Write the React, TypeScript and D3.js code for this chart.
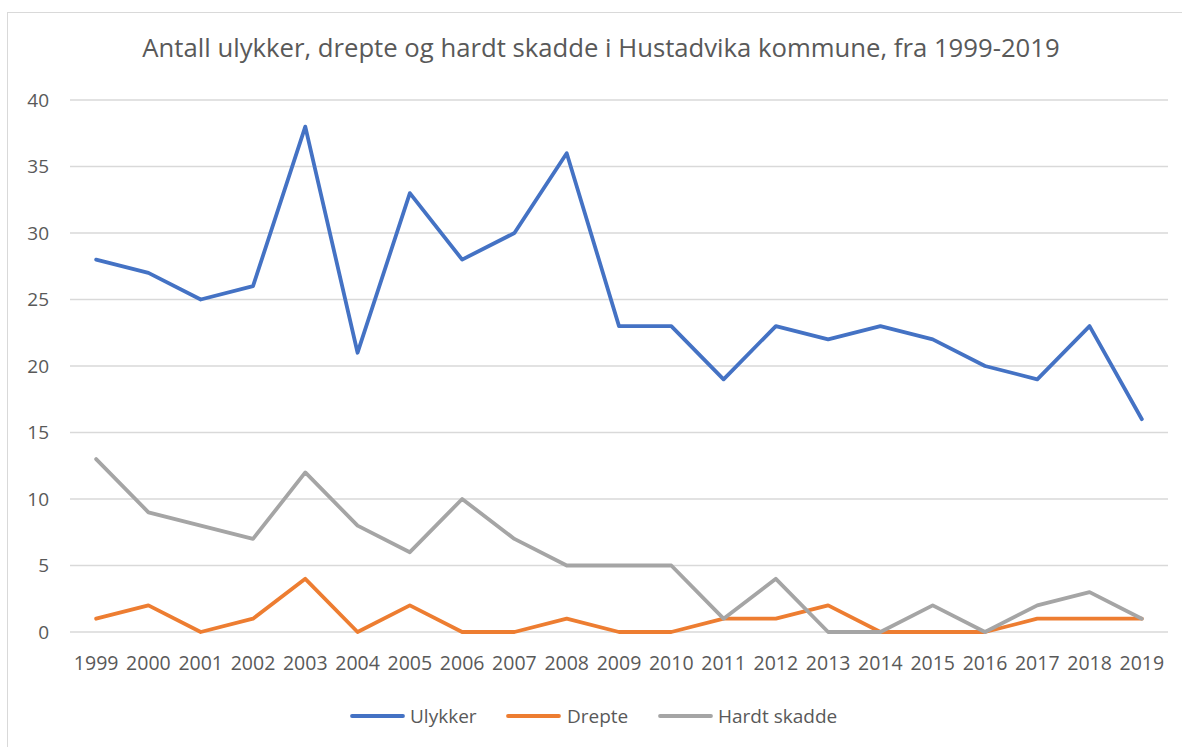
import { useMemo } from 'react'
import * as d3 from 'd3'

const WIDTH = 1182
const HEIGHT = 747
const MARGIN = { top: 100, right: 14, bottom: 115, left: 70 }

const TITLE = 'Antall ulykker, drepte og hardt skadde i Hustadvika kommune, fra 1999-2019'

const YEARS = [
  '1999', '2000', '2001', '2002', '2003', '2004', '2005', '2006', '2007', '2008', '2009',
  '2010', '2011', '2012', '2013', '2014', '2015', '2016', '2017', '2018', '2019'
]

const ULYKKER = [28, 27, 25, 26, 38, 21, 33, 28, 30, 36, 23, 23, 19, 23, 22, 23, 22, 20, 19, 23, 16]
const DREPTE = [1, 2, 0, 1, 4, 0, 2, 0, 0, 1, 0, 0, 1, 1, 2, 0, 0, 0, 1, 1, 1]
const HARDT_SKADDE = [13, 9, 8, 7, 12, 8, 6, 10, 7, 5, 5, 5, 1, 4, 0, 0, 2, 0, 2, 3, 1]

const Y_TICKS = [0, 5, 10, 15, 20, 25, 30, 35, 40]

const SERIES = [
  { name: 'Ulykker', values: ULYKKER, color: '#4472C4' },
  { name: 'Drepte', values: DREPTE, color: '#ED7D31' },
  { name: 'Hardt skadde', values: HARDT_SKADDE, color: '#A5A5A5' }
]

const FONT = '"Open Sans", "Noto Sans", sans-serif'
const TEXT_COLOR = '#595959'

export default function App() {
  const innerWidth = WIDTH - MARGIN.left - MARGIN.right
  const innerHeight = HEIGHT - MARGIN.top - MARGIN.bottom

  const xScale = useMemo(
    () => d3.scaleBand<string>().domain(YEARS).range([0, innerWidth]),
    [innerWidth]
  )
  const yScale = useMemo(
    () => d3.scaleLinear().domain([0, 40]).range([innerHeight, 0]),
    [innerHeight]
  )

  const line = d3.line<number>()
    .x((_, i) => (xScale(YEARS[i]) ?? 0) + xScale.bandwidth() / 2)
    .y(d => yScale(d))

  // legend layout (line swatch + label)
  const legendItems = [
    { x: 352, textX: 410 },
    { x: 508, textX: 567 },
    { x: 660, textX: 718 }
  ]

  return (
    <svg
      width={WIDTH}
      height={HEIGHT}
      style={{ position: 'absolute', left: 0, top: 0, background: '#fff' }}
      fontFamily={FONT}
    >
      {/* chart frame, cropped on right/bottom */}
      <rect x={7.5} y={12.5} width={1200} height={800} fill="#fff" stroke="#d9d9d9" />

      <text x={601} y={57} textAnchor="middle" fontSize={25.7} fill={TEXT_COLOR}>
        {TITLE}
      </text>

      <g transform={`translate(${MARGIN.left}, ${MARGIN.top})`}>
        {/* gridlines + y labels */}
        {Y_TICKS.map(t => (
          <g key={t} transform={`translate(0, ${yScale(t)})`}>
            <line x1={0} x2={innerWidth} stroke="#d9d9d9" strokeWidth={1.3} />
            <text x={-21} dy="0.35em" textAnchor="end" fontSize={19} fill={TEXT_COLOR}>
              {t}
            </text>
          </g>
        ))}

        {/* x labels */}
        {YEARS.map(y => (
          <text
            key={y}
            x={(xScale(y) ?? 0) + xScale.bandwidth() / 2}
            y={innerHeight + 38}
            textAnchor="middle"
            fontSize={19.5}
            fill={TEXT_COLOR}
          >
            {y}
          </text>
        ))}

        {SERIES.map(s => (
          <path
            key={s.name}
            d={line(s.values) ?? ''}
            fill="none"
            stroke={s.color}
            strokeWidth={3.8}
            strokeLinejoin="round"
            strokeLinecap="round"
          />
        ))}
      </g>

      {/* legend */}
      {SERIES.map((s, i) => (
        <g key={s.name}>
          <line
            x1={legendItems[i].x}
            x2={legendItems[i].x + 51}
            y1={716}
            y2={716}
            stroke={s.color}
            strokeWidth={3.8}
            strokeLinecap="round"
          />
          <text x={legendItems[i].textX} y={716} dy="0.35em" fontSize={19} fill={TEXT_COLOR}>
            {s.name}
          </text>
        </g>
      ))}
    </svg>
  )
}
